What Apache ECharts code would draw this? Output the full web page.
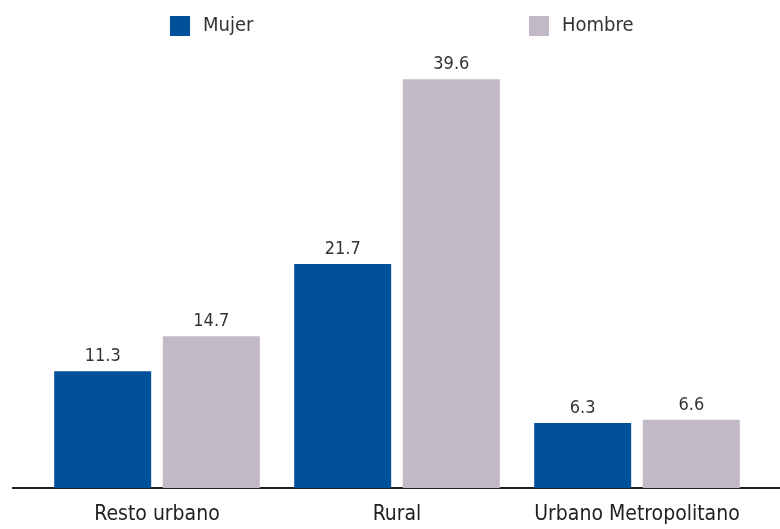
<!DOCTYPE html>
<html>
<head>
<meta charset="utf-8">
<script src="https://cdn.jsdelivr.net/npm/echarts@6/dist/echarts.min.js"></script>
<style>
  html, body { margin: 0; padding: 0; background: #fff; }
  #chart { width: 780px; height: 529px; }
</style>
</head>
<body>
<div id="chart"></div>
<script>
// Tasa por área de residencia y sexo
const categories = ['Resto urbano', 'Rural', 'Urbano Metropolitano'];
const mujer = [11.3, 21.7, 6.3];
const hombre = [14.7, 39.6, 6.6];

const FONT = '"Liberation Sans Narrow", "DejaVu Sans Condensed", "Noto Sans", sans-serif';

const chart = echarts.init(document.getElementById('chart'), null, { renderer: 'canvas' });

const labelStyle = {
  show: true,
  position: 'top',
  distance: 6,
  color: '#333',
  fontFamily: FONT,
  fontSize: 18
};

const legendText = { fontFamily: FONT, fontSize: 20, color: '#333', padding: [0, 0, 3, 8] };

chart.setOption({
  animation: false,
  backgroundColor: '#fff',
  grid: { left: 37, right: 23, top: 75, bottom: 41 },
  legend: [
    {
      data: ['Mujer'], left: 165, top: 11, icon: 'rect',
      itemWidth: 20, itemHeight: 20,
      textStyle: legendText
    },
    {
      data: ['Hombre'], left: 524, top: 11, icon: 'rect',
      itemWidth: 20, itemHeight: 20,
      textStyle: legendText
    }
  ],
  xAxis: {
    type: 'category',
    data: categories,
    axisLine: { show: false },
    axisTick: { show: false },
    axisLabel: { interval: 0, margin: 16, color: '#222', fontFamily: FONT, fontSize: 21 }
  },
  yAxis: {
    type: 'value',
    min: 0,
    max: 40,
    show: false
  },
  graphic: [
    {
      type: 'line',
      shape: { x1: 12, y1: 488, x2: 780, y2: 488 },
      style: { stroke: '#222', lineWidth: 2 }
    }
  ],
  series: [
    {
      name: 'Mujer',
      type: 'bar',
      data: mujer,
      barWidth: 97,
      barGap: '12%',
      itemStyle: { color: '#00509C' },
      label: labelStyle
    },
    {
      name: 'Hombre',
      type: 'bar',
      data: hombre,
      barWidth: 97,
      itemStyle: { color: '#C1BAC6' },
      label: labelStyle
    }
  ]
});
</script>
</body>
</html>
